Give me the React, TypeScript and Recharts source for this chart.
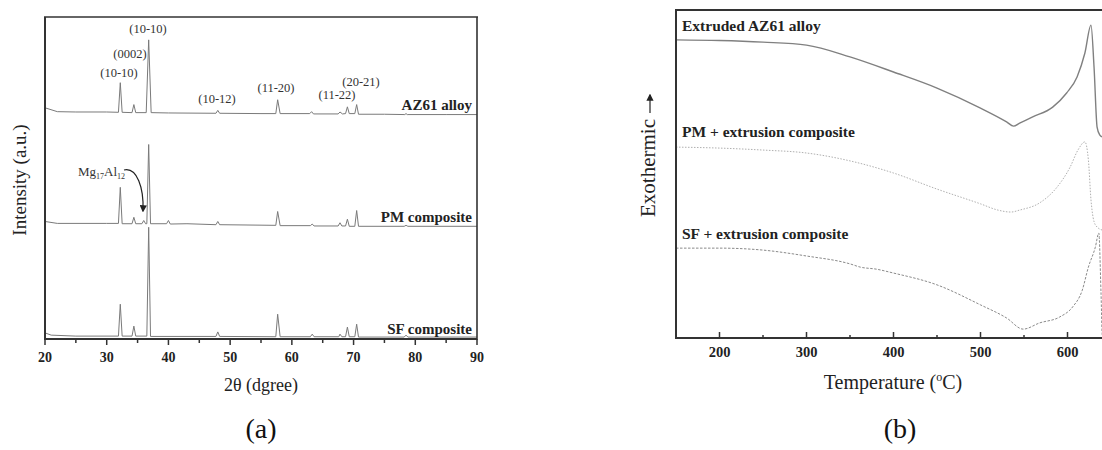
import React from 'react';
import { Line, LineChart, XAxis, YAxis } from 'recharts';

// XRD patterns, 2θ (degree) vs intensity (a.u., stacked)
const az61Xrd: [number, number][] = [
	[20, 71.8], [22, 70.6], [25, 70.5], [30, 70.5], [31.9, 70.4], [32.2, 79.6], [32.5, 70.4],
	[34.1, 70.3], [34.4, 72.8], [34.7, 70.3], [36.4, 70.3], [36.8, 92.9], [37.2, 70.3],
	[40, 70.2], [47.7, 70.1], [48, 71.0], [48.3, 70.1], [55, 70.0], [57.4, 70.0], [57.7, 74.3],
	[58.1, 70.0], [62.9, 70.0], [63.2, 70.6], [63.5, 69.9], [67.5, 69.9], [67.8, 70.5],
	[68.2, 69.9], [68.7, 70.0], [69, 72.1], [69.3, 70.0], [70.2, 70.0], [70.5, 72.8],
	[70.8, 69.8], [75, 69.8], [78.3, 69.7], [78.5, 70.0], [78.7, 69.7], [85, 69.7], [90, 69.7],
];

const pmXrd: [number, number][] = [
	[20, 36.5], [22, 35.9], [30, 35.9], [31.9, 35.9], [32.2, 47.1], [32.5, 35.8], [34.1, 35.8],
	[34.4, 37.8], [34.7, 35.8], [35.7, 35.8], [36.0, 36.8], [36.3, 35.8], [36.5, 35.8],
	[36.8, 60.4], [37.1, 35.8], [39.7, 35.8], [40, 36.8], [40.3, 35.7], [43, 35.8], [47.7, 35.5],
	[48, 36.5], [48.3, 35.5], [57.4, 35.3], [57.7, 39.6], [58.1, 35.2], [63, 35.2], [63.3, 35.7],
	[63.6, 35.1], [67.5, 35.1], [67.8, 36.1], [68.1, 35.1], [68.7, 35.1], [69, 37.2], [69.3, 35.0],
	[70.2, 35.0], [70.5, 39.9], [70.8, 35.0], [78.2, 35.0], [78.5, 35.3], [78.8, 35.0], [90, 35.0],
];

const sfXrd: [number, number][] = [
	[20, 1.9], [21, 1.2], [25, 0.9], [31.9, 0.9], [32.2, 10.8], [32.5, 0.9], [34.1, 0.9],
	[34.4, 4.0], [34.7, 0.9], [36.5, 0.9], [36.8, 34.7], [37.1, 0.8], [47.7, 0.8], [48, 2.2],
	[48.3, 0.8], [57.4, 0.7], [57.7, 7.7], [58.1, 0.7], [63, 0.7], [63.3, 1.5], [63.6, 0.7],
	[67.6, 0.7], [67.8, 1.5], [68.1, 0.7], [68.7, 0.7], [69, 3.7], [69.3, 0.7], [70.2, 0.7],
	[70.5, 4.6], [70.8, 0.6], [78.2, 0.6], [78.5, 1.2], [78.8, 0.6], [90, 0.6],
];

// DSC curves, temperature (°C) vs heat flow (a.u., stacked)
const az61Dsc: [number, number][] = [
	[150, 90.9], [200, 90.7], [250, 90.2], [300, 89.3], [350, 85.7], [400, 81.1], [450, 76.2],
	[500, 70.1], [530, 65.9], [538, 64.6], [545, 65.5], [560, 67.4], [583, 70.4], [599, 74.7],
	[611, 79.6], [620, 86.9], [627, 95.4], [630.5, 82.6], [634, 64.3], [637, 61.9], [640, 61.3],
	[650, 61.0],
];

const pmDsc: [number, number][] = [
	[150, 58.2], [200, 57.9], [250, 57.3], [300, 56.4], [350, 54.0], [400, 50.3], [450, 45.4],
	[500, 40.9], [520, 39.0], [535, 38.4], [545, 39.0], [568, 41.2], [588, 46.0], [603, 52.1],
	[612, 57.3], [620, 59.8], [624, 54.3], [627, 42.1], [632, 34.5], [640, 32.9], [650, 32.5],
];

const sfDsc: [number, number][] = [
	[150, 27.4], [200, 27.4], [250, 26.8], [300, 25.0], [350, 22.6], [362, 21.6], [380, 21.0],
	[400, 19.8], [450, 16.2], [500, 10.1], [530, 6.1], [549, 2.7], [568, 4.6], [591, 6.4],
	[606, 9.5], [617, 14.6], [624, 21.6], [632, 27.7], [636, 32.0], [638.5, 14.0], [640, 0.9],
	[650, 0.5],
];

const xrdTicks = [20, 25, 30, 35, 40, 45, 50, 55, 60, 65, 70, 75, 80, 85, 90];
const dscTicks = [200, 250, 300, 350, 400, 450, 500, 550, 600, 650];

const xrdPeakLabels = [
	{ text: '(10-10)', x: 148, y: 33 },
	{ text: '(0002)', x: 130, y: 58 },
	{ text: '(10-10)', x: 119, y: 77 },
	{ text: '(10-12)', x: 217, y: 103 },
	{ text: '(11-20)', x: 276, y: 92 },
	{ text: '(11-22)', x: 337, y: 99 },
	{ text: '(20-21)', x: 361, y: 86 },
];

const toRows = (pts: [number, number][]) => pts.map(([x, v]) => ({ x, v }));

const FONT = '"Liberation Serif", "Times New Roman", serif';
const AXIS = '#333';

const tickText = (size: number): React.CSSProperties => ({
	fontFamily: FONT,
	fontWeight: 700,
	fontSize: size,
	fill: '#222',
});

const XrdTick = (props: any) => {
	const { x, y, payload } = props;
	const major = payload.value % 10 === 0;
	return (
		<g>
			<line x1={x} x2={x} y1={y} y2={y + (major ? 6 : 4)} stroke={AXIS} strokeWidth={1.5} />
			{major && (
				<text x={x} y={y + 23} textAnchor="middle" style={tickText(14)}>
					{payload.value}
				</text>
			)}
		</g>
	);
};

const DscTick = (props: any) => {
	const { x, y, payload } = props;
	const major = payload.value % 100 === 0;
	return (
		<g>
			<line x1={x} x2={x} y1={y} y2={y - (major ? 6 : 3)} stroke={AXIS} strokeWidth={1.5} />
			{major && (
				<text x={x} y={y + 19} textAnchor="middle" style={tickText(14.5)}>
					{payload.value}
				</text>
			)}
		</g>
	);
};

const serif = { fontFamily: FONT };

export default function App() {
	return (
		<div
			style={{
				position: 'absolute',
				left: 0,
				top: 0,
				width: 1102,
				height: 450,
				overflow: 'hidden',
				background: '#fff',
			}}
		>
			<div style={{ position: 'absolute', left: 0, top: 0 }}>
				<LineChart width={500} height={450} margin={{ top: 17, right: 23, left: 45, bottom: 81 }}>
					<XAxis
						type="number"
						dataKey="x"
						domain={[20, 90]}
						ticks={xrdTicks}
						interval={0}
						height={30}
						tickSize={0}
						tickMargin={0}
						tickLine={false}
						tick={<XrdTick />}
						axisLine={{ stroke: AXIS, strokeWidth: 2 }}
					/>
					<YAxis hide domain={[0, 100]} type="number" />
					<Line data={toRows(az61Xrd)} dataKey="v" type="linear" stroke="#7a7a7a" strokeWidth={1} dot={false} isAnimationActive={false} />
					<Line data={toRows(pmXrd)} dataKey="v" type="linear" stroke="#7a7a7a" strokeWidth={1} dot={false} isAnimationActive={false} />
					<Line data={toRows(sfXrd)} dataKey="v" type="linear" stroke="#7a7a7a" strokeWidth={1} dot={false} isAnimationActive={false} />
				</LineChart>
			</div>

			<div style={{ position: 'absolute', left: 600, top: 0 }}>
				<LineChart width={516} height={450} margin={{ top: 10, right: 5, left: 76, bottom: 82 }}>
					<XAxis
						type="number"
						dataKey="x"
						domain={[150, 650]}
						ticks={dscTicks}
						interval={0}
						height={30}
						tickSize={0}
						tickMargin={0}
						tickLine={false}
						tick={<DscTick />}
						axisLine={{ stroke: AXIS, strokeWidth: 2 }}
					/>
					<YAxis hide domain={[0, 100]} type="number" />
					<Line data={toRows(az61Dsc)} dataKey="v" type="monotone" stroke="#808080" strokeWidth={1.4} dot={false} isAnimationActive={false} />
					<Line data={toRows(pmDsc)} dataKey="v" type="monotone" stroke="#b0b0b0" strokeWidth={1} strokeDasharray="1.5 1.5" dot={false} isAnimationActive={false} />
					<Line data={toRows(sfDsc)} dataKey="v" type="monotone" stroke="#8a8a8a" strokeWidth={1} strokeDasharray="2.5 1.5" dot={false} isAnimationActive={false} />
				</LineChart>
			</div>

			<svg
				width={1102}
				height={450}
				style={{ position: 'absolute', left: 0, top: 0, pointerEvents: 'none', ...serif }}
			>
				<defs>
					<marker id="head" viewBox="0 0 10 10" refX="8" refY="5" markerWidth="6" markerHeight="6" orient="auto">
						<path d="M0,0 L10,5 L0,10 z" fill="#222" />
					</marker>
				</defs>

				{/* panel (a) frame */}
				<line x1={45} y1={17} x2={45} y2={340} stroke={AXIS} strokeWidth={2} />
				<line x1={44} y1={17} x2={478} y2={17} stroke={AXIS} strokeWidth={1.6} />
				<line x1={477} y1={17} x2={477} y2={340} stroke={AXIS} strokeWidth={1.6} />

				{xrdPeakLabels.map((p, i) => (
					<text key={i} x={p.x} y={p.y} textAnchor="middle" style={{ ...serif, fontSize: 12.5, fill: '#333' }}>
						{p.text}
					</text>
				))}

				<text x={78} y={176} style={{ ...serif, fontSize: 13, fill: '#333' }}>
					Mg<tspan fontSize={8} dy={3}>17</tspan>
					<tspan dy={-3}>Al</tspan>
					<tspan fontSize={8} dy={3}>12</tspan>
				</text>
				<path d="M124,170 C137,167 144,188 143,211" fill="none" stroke="#222" strokeWidth={1.2} markerEnd="url(#head)" />

				<text x={472} y={110} textAnchor="end" style={{ ...serif, fontSize: 15, fontWeight: 700, fill: '#222' }}>AZ61 alloy</text>
				<text x={472} y={222} textAnchor="end" style={{ ...serif, fontSize: 15, fontWeight: 700, fill: '#222' }}>PM composite</text>
				<text x={472} y={334} textAnchor="end" style={{ ...serif, fontSize: 15, fontWeight: 700, fill: '#222' }}>SF composite</text>

				<text x={26} y={180} textAnchor="middle" style={{ ...serif, fontSize: 19, fill: '#222' }} transform="rotate(-90 26 180)">
					Intensity (a.u.)
				</text>
				<text x={261} y={391} textAnchor="middle" style={{ ...serif, fontSize: 18, fill: '#222' }}>2θ (dgree)</text>
				<text x={261} y={438} textAnchor="middle" style={{ ...serif, fontSize: 28, fill: '#111' }}>(a)</text>

				{/* panel (b) frame */}
				<line x1={676} y1={9} x2={676} y2={339} stroke={AXIS} strokeWidth={2} />
				<line x1={675} y1={10} x2={1102} y2={10} stroke={AXIS} strokeWidth={1.8} />

				<text x={682} y={31} style={{ ...serif, fontSize: 15.5, fontWeight: 700, fill: '#222' }}>Extruded AZ61 alloy</text>
				<text x={682} y={137} style={{ ...serif, fontSize: 15.5, fontWeight: 700, fill: '#222' }}>PM + extrusion composite</text>
				<text x={682} y={239} style={{ ...serif, fontSize: 15.5, fontWeight: 700, fill: '#222' }}>SF + extrusion composite</text>

				<text x={655} y={168} textAnchor="middle" style={{ ...serif, fontSize: 21, fill: '#222' }} transform="rotate(-90 655 168)">
					Exothermic
				</text>
				<line x1={650} y1={113} x2={650} y2={95} stroke="#222" strokeWidth={1.2} markerEnd="url(#head)" />

				<text x={893} y={389} textAnchor="middle" style={{ ...serif, fontSize: 20, fill: '#222' }}>
					Temperature (<tspan fontSize={12} dy={-8}>o</tspan>
					<tspan dy={8}>C)</tspan>
				</text>
				<text x={900} y={438} textAnchor="middle" style={{ ...serif, fontSize: 28, fill: '#111' }}>(b)</text>
			</svg>
		</div>
	);
}
